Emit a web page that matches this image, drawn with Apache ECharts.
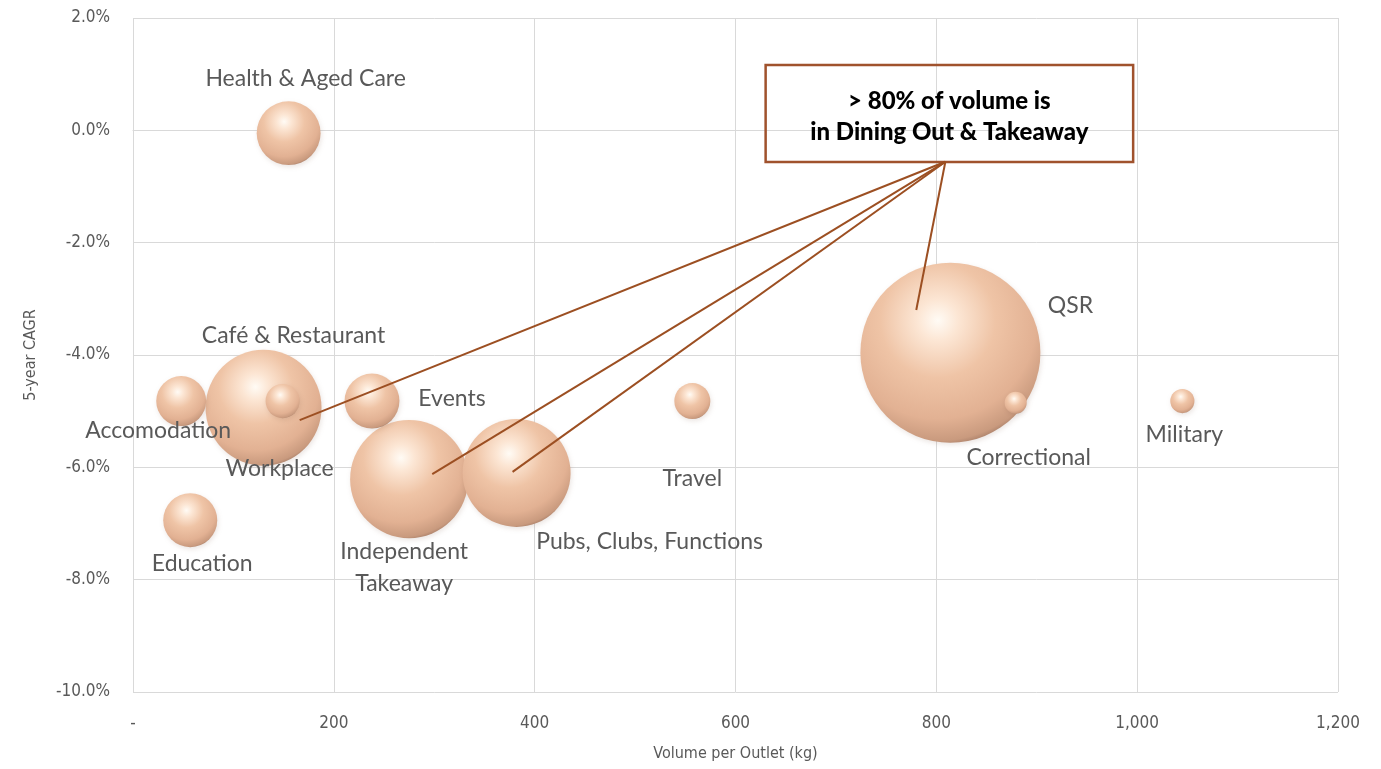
<!DOCTYPE html>
<html><head><meta charset="utf-8">
<script src="https://cdn.jsdelivr.net/npm/echarts@6/dist/echarts.min.js"></script>
<style>html,body{margin:0;padding:0;background:#fff}#c{width:1381px;height:769px}</style>
</head><body><div id="c"></div>
<script>
// ---- data ----
const categories = ["QSR","Independent\nTakeaway","Café & Restaurant","Pubs, Clubs, Functions","Health & Aged Care","Events","Education","Accomodation","Travel","Workplace","Military","Correctional"];
const volumePerOutlet = [814, 275, 130, 382, 155, 238, 57, 48, 557, 149, 1045, 879];
const cagr = [-3.96, -6.21, -4.94, -6.10, -0.05, -4.82, -6.94, -4.82, -4.82, -4.82, -4.82, -4.85];
const volumeShare = [100, 43, 41.5, 36, 12.6, 9.3, 9, 7.7, 4, 3.6, 1.8, 1.5];
const xTicks = [0, 200, 400, 600, 800, 1000, 1200];
const yTicks = [-10, -8, -6, -4, -2, 0, 2];
const annotationText = "> 80% of volume is\nin Dining Out & Takeaway";
// leader line targets (data coords) and annotation box (data coords)
const leaderFrom = [809, -0.56];
const leaderTo = [[166, -5.16], [298, -6.12], [378, -6.08], [780, -3.2]];
const boxX = [630, 996];
const boxY = [1.163, -0.563];

// ---- layout (label offsets in px) ----
const labelOffset = {
  "QSR": [120, -47], "Independent\nTakeaway": [-5, 88], "Café & Restaurant": [30, -72],
  "Pubs, Clubs, Functions": [133, 69], "Health & Aged Care": [17, -55], "Events": [80, -2],
  "Education": [12, 43], "Accomodation": [-23, 30], "Travel": [0, 78], "Workplace": [-3, 68],
  "Military": [2, 34], "Correctional": [13, 55]
};
const sizeScale = 18; // symbol diameter = sizeScale * sqrt(share)

const bubbleGradient = {
  type: 'radial', x: 0.43, y: 0.32, r: 0.76,
  colorStops: [
    {offset: 0, color: '#fffbf5'},
    {offset: 0.15, color: '#fce6d4'},
    {offset: 0.42, color: '#efc4a6'},
    {offset: 0.72, color: '#e2b193'},
    {offset: 0.88, color: '#c99a7e'},
    {offset: 0.96, color: '#8f6a58'},
    {offset: 1, color: '#6e4f42'}
  ]
};

const pts = categories.map((n, i) => ({
  name: n,
  value: [volumePerOutlet[i], cagr[i], volumeShare[i]],
  symbolSize: sizeScale * Math.sqrt(volumeShare[i]),
  label: { offset: labelOffset[n] }
}));

const chart = echarts.init(document.getElementById('c'));
const axisFont = "'Liberation Sans Narrow', 'DejaVu Sans Condensed', 'Liberation Sans', sans-serif";
chart.setOption({
  animation: false,
  grid: { left: 133, right: 43, top: 18, bottom: 77 },
  xAxis: {
    type: 'value', min: xTicks[0], max: xTicks[xTicks.length - 1], interval: xTicks[1] - xTicks[0],
    name: 'Volume per Outlet (kg)', nameLocation: 'middle', nameGap: 54,
    nameTextStyle: { color: '#595959', fontSize: 16, fontFamily: axisFont },
    axisLine: { show: true, lineStyle: { color: '#d9d9d9' } },
    axisTick: { show: false },
    axisLabel: { color: '#595959', fontSize: 17, fontFamily: axisFont, margin: 23,
      formatter: v => v === 0 ? '-' : v.toLocaleString('en-US') },
    splitLine: { show: true, lineStyle: { color: '#d9d9d9' } }
  },
  yAxis: {
    type: 'value', min: yTicks[0], max: yTicks[yTicks.length - 1], interval: yTicks[1] - yTicks[0],
    name: '5-year CAGR', nameLocation: 'middle', nameGap: 94,
    nameTextStyle: { color: '#595959', fontSize: 16, fontFamily: axisFont },
    axisLine: { show: false }, axisTick: { show: false },
    axisLabel: { color: '#595959', fontSize: 17, fontFamily: axisFont, margin: 23,
      formatter: v => v.toFixed(1) + '%' },
    splitLine: { show: true, lineStyle: { color: '#d9d9d9' } }
  },
  series: [
    {
      type: 'scatter', z: 2,
      data: pts,
      itemStyle: { color: bubbleGradient, opacity: 1, shadowColor: 'rgba(120,80,60,0.15)', shadowBlur: 5, shadowOffsetX: 1, shadowOffsetY: 2 },
      label: { show: true, position: 'inside', formatter: p => p.name, color: '#595959',
        fontSize: 23, fontFamily: "Lato, 'Open Sans', sans-serif", lineHeight: 32 },
      emphasis: { disabled: true }
    },
    {
      type: 'scatter', z: 5, data: [], silent: true,
      markLine: {
        silent: true, symbol: ['none', 'none'],
        lineStyle: { color: '#9c4f22', width: 2, type: 'solid' },
        label: { show: false },
        data: leaderTo.map(t => [{ coord: leaderFrom }, { coord: t }])
      },
      markArea: {
        silent: true,
        itemStyle: { color: 'rgba(255,255,255,0)', borderColor: '#a0522d', borderWidth: 2.5 },
        label: { show: true, position: 'inside', color: '#000', fontWeight: 900, fontSize: 24,
          fontFamily: "Lato, 'Open Sans', sans-serif", lineHeight: 31, align: 'center', offset: [0, 3] },
        data: [[{ coord: [boxX[0], boxY[0]], name: annotationText }, { coord: [boxX[1], boxY[1]] }]]
      }
    }
  ]
});
</script></body></html>
